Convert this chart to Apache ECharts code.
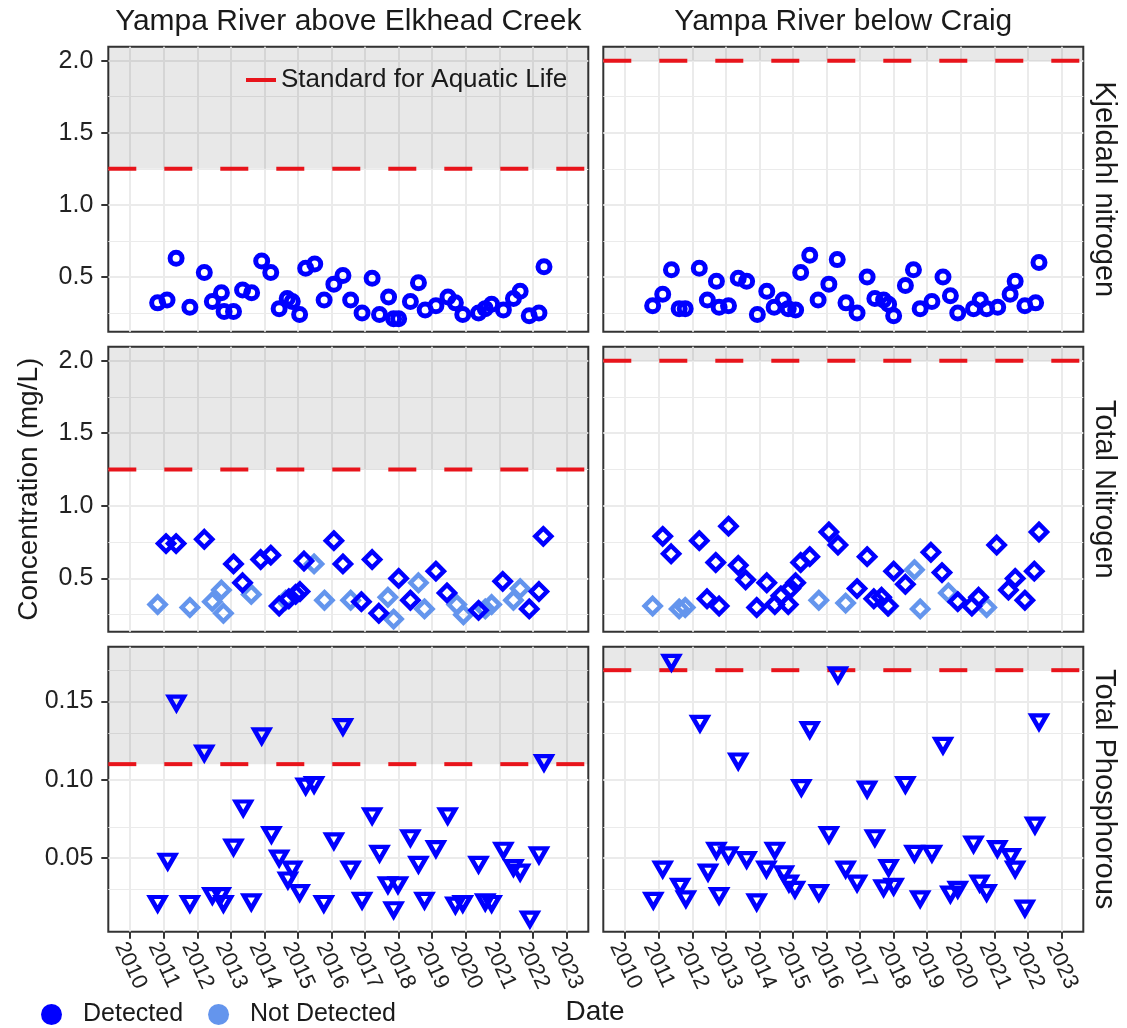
<!DOCTYPE html>
<html>
<head>
<meta charset="utf-8">
<script src="https://cdn.jsdelivr.net/npm/echarts@6/dist/echarts.min.js"></script>
<style>
html, body { margin: 0; padding: 0; background: #fff; }
#chart { width: 1127px; height: 1028px; }
</style>
</head>
<body>
<div id="chart"></div>
<script>
// tick labels
const years = [2010, 2011, 2012, 2013, 2014, 2015, 2016, 2017, 2018, 2019, 2020, 2021, 2022, 2023];
const nTicks = [0.5, 1.0, 1.5, 2.0];
const nMinor = [0.25, 0.75, 1.25, 1.75];
const pTicks = [0.05, 0.10, 0.15];
const pMinor = [0.025, 0.075, 0.125, 0.175];

const sites = ['Yampa River above Elkhead Creek', 'Yampa River below Craig'];
const params = ['Kjeldahl nitrogen', 'Total Nitrogen', 'Total Phosphorous'];

// standard for aquatic life, [row][site]
const standards = [[1.25, 2.0], [1.25, 2.0], [0.11, 0.17]];

// Kjeldahl nitrogen, above Elkhead Creek
const knAboveDate = [2010.82, 2011.10, 2011.37, 2011.78, 2012.21, 2012.45, 2012.72, 2012.80, 2013.08, 2013.35, 2013.62, 2013.92, 2014.19, 2014.44, 2014.68, 2014.83, 2015.05, 2015.23, 2015.50, 2015.78, 2016.07, 2016.34, 2016.57, 2016.91, 2017.21, 2017.43, 2017.70, 2017.85, 2018.00, 2018.35, 2018.59, 2018.79, 2019.11, 2019.47, 2019.69, 2019.91, 2020.38, 2020.58, 2020.77, 2021.12, 2021.42, 2021.62, 2021.89, 2022.18, 2022.33];
const knAboveVal = [0.32, 0.34, 0.63, 0.29, 0.53, 0.33, 0.39, 0.26, 0.26, 0.41, 0.39, 0.61, 0.53, 0.28, 0.35, 0.33, 0.24, 0.56, 0.59, 0.34, 0.45, 0.51, 0.34, 0.25, 0.49, 0.24, 0.36, 0.21, 0.21, 0.33, 0.46, 0.27, 0.30, 0.36, 0.32, 0.24, 0.25, 0.28, 0.31, 0.27, 0.35, 0.40, 0.23, 0.25, 0.57];

// Kjeldahl nitrogen, below Craig
const knBelowDate = [2010.82, 2011.12, 2011.38, 2011.61, 2011.79, 2012.21, 2012.45, 2012.72, 2012.80, 2013.08, 2013.37, 2013.62, 2013.94, 2014.22, 2014.44, 2014.71, 2014.86, 2015.08, 2015.23, 2015.50, 2015.75, 2016.07, 2016.32, 2016.58, 2016.91, 2017.21, 2017.44, 2017.70, 2017.85, 2018.00, 2018.35, 2018.59, 2018.79, 2019.14, 2019.47, 2019.69, 2019.91, 2020.38, 2020.58, 2020.77, 2021.10, 2021.47, 2021.62, 2021.91, 2022.23, 2022.33];
const knBelowVal = [0.30, 0.38, 0.55, 0.28, 0.28, 0.56, 0.34, 0.47, 0.29, 0.30, 0.49, 0.47, 0.24, 0.40, 0.29, 0.34, 0.28, 0.27, 0.53, 0.65, 0.34, 0.45, 0.62, 0.32, 0.25, 0.50, 0.35, 0.34, 0.31, 0.23, 0.44, 0.55, 0.28, 0.33, 0.50, 0.37, 0.25, 0.28, 0.34, 0.28, 0.29, 0.38, 0.47, 0.30, 0.32, 0.60];

// Total nitrogen, above Elkhead Creek
const tnAboveDate = [2011.07, 2011.37, 2012.21, 2013.08, 2013.35, 2013.89, 2014.19, 2014.44, 2014.73, 2014.93, 2015.06, 2015.18, 2016.07, 2016.34, 2016.89, 2017.21, 2017.41, 2018.00, 2018.35, 2019.11, 2019.44, 2020.38, 2021.10, 2021.89, 2022.18, 2022.31];
const tnAboveVal = [0.74, 0.74, 0.77, 0.60, 0.47, 0.63, 0.66, 0.31, 0.36, 0.39, 0.41, 0.62, 0.76, 0.60, 0.34, 0.63, 0.26, 0.50, 0.35, 0.55, 0.40, 0.28, 0.48, 0.29, 0.41, 0.79];
const tnAboveNdDate = [2010.82, 2011.78, 2012.45, 2012.72, 2012.78, 2013.61, 2014.63, 2015.48, 2015.79, 2016.57, 2017.68, 2017.85, 2018.59, 2018.77, 2019.73, 2019.93, 2020.58, 2020.77, 2021.42, 2021.62];
const tnAboveNdVal = [0.32, 0.30, 0.34, 0.42, 0.26, 0.39, 0.35, 0.60, 0.35, 0.35, 0.37, 0.22, 0.47, 0.29, 0.32, 0.25, 0.29, 0.32, 0.35, 0.43];

// Total nitrogen, below Craig
const tnBelowDate = [2011.12, 2011.37, 2012.21, 2012.70, 2012.44, 2012.80, 2013.08, 2013.37, 2013.59, 2013.92, 2014.22, 2014.46, 2014.64, 2014.86, 2014.93, 2015.08, 2015.23, 2015.50, 2016.07, 2016.34, 2016.91, 2017.21, 2017.41, 2017.64, 2017.83, 2018.00, 2018.35, 2019.11, 2019.44, 2019.91, 2020.33, 2020.53, 2021.07, 2021.42, 2021.62, 2021.91, 2022.19, 2022.33];
const tnBelowVal = [0.79, 0.67, 0.76, 0.61, 0.36, 0.31, 0.86, 0.59, 0.49, 0.30, 0.47, 0.32, 0.38, 0.32, 0.43, 0.47, 0.61, 0.65, 0.82, 0.73, 0.43, 0.65, 0.36, 0.37, 0.31, 0.55, 0.46, 0.68, 0.54, 0.34, 0.31, 0.37, 0.73, 0.42, 0.50, 0.35, 0.55, 0.82];
const tnBelowNdDate = [2010.82, 2011.61, 2011.79, 2015.77, 2016.57, 2017.85, 2018.62, 2018.79, 2019.63, 2020.77];
const tnBelowNdVal = [0.31, 0.29, 0.30, 0.35, 0.33, 0.31, 0.56, 0.29, 0.40, 0.30];

// Total phosphorous, above Elkhead Creek
const tpAboveDate = [2010.82, 2011.12, 2011.38, 2011.78, 2012.21, 2012.45, 2012.70, 2012.78, 2013.08, 2013.37, 2013.61, 2013.92, 2014.21, 2014.44, 2014.70, 2014.83, 2015.05, 2015.23, 2015.48, 2015.77, 2016.07, 2016.34, 2016.57, 2016.91, 2017.21, 2017.43, 2017.68, 2017.98, 2017.85, 2018.35, 2018.59, 2018.77, 2019.11, 2019.46, 2019.69, 2019.91, 2020.38, 2020.58, 2020.77, 2021.12, 2021.42, 2021.62, 2021.91, 2022.18, 2022.33];
const tpAboveVal = [0.021, 0.048, 0.149, 0.021, 0.117, 0.026, 0.026, 0.021, 0.057, 0.082, 0.022, 0.128, 0.065, 0.050, 0.036, 0.043, 0.028, 0.096, 0.097, 0.021, 0.061, 0.134, 0.043, 0.023, 0.077, 0.053, 0.033, 0.033, 0.017, 0.063, 0.046, 0.023, 0.056, 0.077, 0.020, 0.021, 0.046, 0.022, 0.021, 0.055, 0.044, 0.041, 0.011, 0.052, 0.111];

// Total phosphorous, below Craig
const tpBelowDate = [2010.84, 2011.12, 2011.38, 2011.64, 2011.81, 2012.23, 2012.47, 2012.72, 2012.80, 2013.08, 2013.37, 2013.62, 2013.92, 2014.21, 2014.46, 2014.73, 2014.88, 2015.06, 2015.25, 2015.50, 2015.77, 2016.07, 2016.34, 2016.57, 2016.91, 2017.21, 2017.44, 2017.70, 2017.85, 2018.00, 2018.35, 2018.62, 2018.79, 2019.14, 2019.47, 2019.69, 2019.91, 2020.38, 2020.56, 2020.77, 2021.09, 2021.49, 2021.62, 2021.91, 2022.21, 2022.33];
const tpBelowVal = [0.023, 0.043, 0.175, 0.032, 0.024, 0.136, 0.041, 0.055, 0.026, 0.052, 0.112, 0.049, 0.022, 0.043, 0.055, 0.040, 0.034, 0.030, 0.095, 0.132, 0.028, 0.065, 0.167, 0.043, 0.034, 0.094, 0.063, 0.031, 0.044, 0.032, 0.097, 0.053, 0.024, 0.053, 0.122, 0.027, 0.030, 0.059, 0.034, 0.028, 0.056, 0.051, 0.043, 0.018, 0.071, 0.137];

const zip = (xs, ys) => xs.map((x, i) => [x, ys[i]]);

const panels = [
    [{det: zip(knAboveDate, knAboveVal), nd: []}, {det: zip(knBelowDate, knBelowVal), nd: []}],
    [{det: zip(tnAboveDate, tnAboveVal), nd: zip(tnAboveNdDate, tnAboveNdVal)}, {det: zip(tnBelowDate, tnBelowVal), nd: zip(tnBelowNdDate, tnBelowNdVal)}],
    [{det: zip(tpAboveDate, tpAboveVal), nd: []}, {det: zip(tpBelowDate, tpBelowVal), nd: []}]
];

const BLUE = '#0000ff';
const LIGHT = '#6495ed';
const RED = '#e8141b';
const FONT = 'Liberation Sans, Arial, sans-serif';

const xMin = 2009.35, xMax = 2023.65;
const rowCfg = [
    {ymin: 0.12, ymax: 2.097, ticks: nTicks, minor: nMinor, digits: 1, symbol: 'circle', size: 12, border: 5, rot: 0},
    {ymin: 0.133, ymax: 2.096, ticks: nTicks, minor: nMinor, digits: 1, symbol: 'diamond', size: 16, border: 4.5, rot: 0},
    {ymin: 0.003, ymax: 0.185, ticks: pTicks, minor: pMinor, digits: 2, symbol: 'triangle', size: [15, 13], border: 4.5, rot: 180}
];
const colLeft = [108.3, 603.3];
const rowTop = [46.7, 346.7, 646.7];
const W = 480, H = 285;

const grid = [], xAxis = [], yAxis = [], series = [];
for (let r = 0; r < 3; r++) {
    for (let c = 0; c < 2; c++) {
        const g = r * 2 + c;
        const cfg = rowCfg[r];
        grid.push({
            left: colLeft[c], top: rowTop[r], width: W, height: H,
            show: true, borderColor: '#333', borderWidth: 2, backgroundColor: 'transparent'
        });
        xAxis.push({
            gridIndex: g, type: 'value', min: xMin, max: xMax,
            axisLine: {show: false},
            axisTick: {show: r === 2, customValues: years, length: 7, lineStyle: {color: '#333', width: 2}},
            axisLabel: {
                show: r === 2, customValues: years, rotate: -65, margin: 7,
                verticalAlign: 'top',
                fontSize: 22, color: '#222', fontFamily: FONT,
                formatter: v => String(Math.round(v))
            },
            splitLine: {show: true, lineStyle: {color: '#ebebeb', width: 2}}
        });
        yAxis.push({
            gridIndex: g, type: 'value', min: cfg.ymin, max: cfg.ymax,
            name: (r === 1 && c === 0) ? 'Concentration (mg/L)' : '',
            nameLocation: 'middle', nameGap: 65,
            nameTextStyle: {fontSize: 28, color: '#1a1a1a', fontFamily: FONT},
            axisLine: {show: false},
            axisTick: {show: c === 0, customValues: cfg.ticks, length: 7, lineStyle: {color: '#333', width: 2}},
            axisLabel: {
                show: c === 0, customValues: cfg.ticks, margin: 15,
                fontSize: 25, color: '#222', fontFamily: FONT,
                formatter: v => v.toFixed(cfg.digits)
            },
            splitLine: {show: true, lineStyle: {color: '#ebebeb', width: 2}}
        });
        const std = standards[r][c];
        // minor grid lines
        series.push({
            type: 'line', xAxisIndex: g, yAxisIndex: g, data: [], z: 1, silent: true,
            markLine: {
                silent: true, symbol: 'none', animation: false, z: 1,
                label: {show: false},
                lineStyle: {color: '#ebebeb', width: 1.2, type: 'solid'},
                data: cfg.minor.map(v => ({yAxis: v}))
            }
        });
        // shaded region above the standard
        series.push({
            type: 'line', xAxisIndex: g, yAxisIndex: g, data: [], z: 2, silent: true,
            markArea: {
                silent: true, animation: false, z: 2,
                itemStyle: {color: 'rgba(0,0,0,0.09)'},
                data: [[{yAxis: std}, {yAxis: cfg.ymax}]]
            }
        });
        // standard line
        series.push({
            name: 'Standard for Aquatic Life',
            type: 'line', xAxisIndex: g, yAxisIndex: g, z: 3, silent: true,
            data: [[xMin, std], [xMax, std]],
            symbol: 'none', color: RED, animation: false,
            lineStyle: {color: RED, width: 4, type: [28, 28], cap: 'butt'}
        });
        const p = panels[r][c];
        [['Not Detected', p.nd, LIGHT], ['Detected', p.det, BLUE]].forEach(([name, data, col]) => {
            series.push({
                name: name, type: 'scatter', xAxisIndex: g, yAxisIndex: g, z: 4,
                data: data, symbol: cfg.symbol, symbolSize: cfg.size, symbolRotate: cfg.rot,
                color: col, animation: false,
                itemStyle: {color: 'rgba(0,0,0,0)', borderColor: col, borderWidth: cfg.border, opacity: 1}
            });
        });
    }
}

const graphic = [];
sites.forEach((s, c) => {
    graphic.push({
        type: 'text', x: colLeft[c] + W / 2, y: 22,
        style: {text: s, fontSize: 30, fontFamily: FONT, fill: '#1a1a1a', textAlign: 'center', textVerticalAlign: 'middle'}
    });
});
params.forEach((s, r) => {
    graphic.push({
        type: 'text', x: 1104, y: rowTop[r] + H / 2, rotation: -Math.PI / 2,
        style: {text: s, fontSize: 29, fontFamily: FONT, fill: '#1a1a1a', textAlign: 'center', textVerticalAlign: 'middle'}
    });
});
graphic.push({
    type: 'text', x: 595, y: 1012,
    style: {text: 'Date', fontSize: 28, fontFamily: FONT, fill: '#1a1a1a', textAlign: 'center', textVerticalAlign: 'middle'}
});

const chart = echarts.init(document.getElementById('chart'), null, {renderer: 'canvas'});
chart.setOption({
    backgroundColor: '#fff',
    animation: false,
    textStyle: {fontFamily: FONT},
    grid: grid, xAxis: xAxis, yAxis: yAxis, series: series, graphic: graphic,
    legend: [
        {
            data: [{name: 'Standard for Aquatic Life', icon: 'rect', itemStyle: {color: RED}}],
            left: 246, top: 67, padding: 0, itemWidth: 30, itemHeight: 4,
            selectedMode: false,
            textStyle: {fontSize: 26, color: '#1a1a1a', fontFamily: FONT}
        },
        {
            data: [
                {name: 'Detected', icon: 'circle', itemStyle: {color: BLUE, borderWidth: 0}},
                {name: 'Not Detected', icon: 'circle', itemStyle: {color: LIGHT, borderWidth: 0}}
            ],
            left: 41, top: 1002, padding: 0, itemWidth: 21, itemHeight: 21, itemGap: 25,
            selectedMode: false,
            textStyle: {fontSize: 25, color: '#1a1a1a', fontFamily: FONT, padding: [0, 0, 0, 16]}
        }
    ]
});
</script>
</body>
</html>
